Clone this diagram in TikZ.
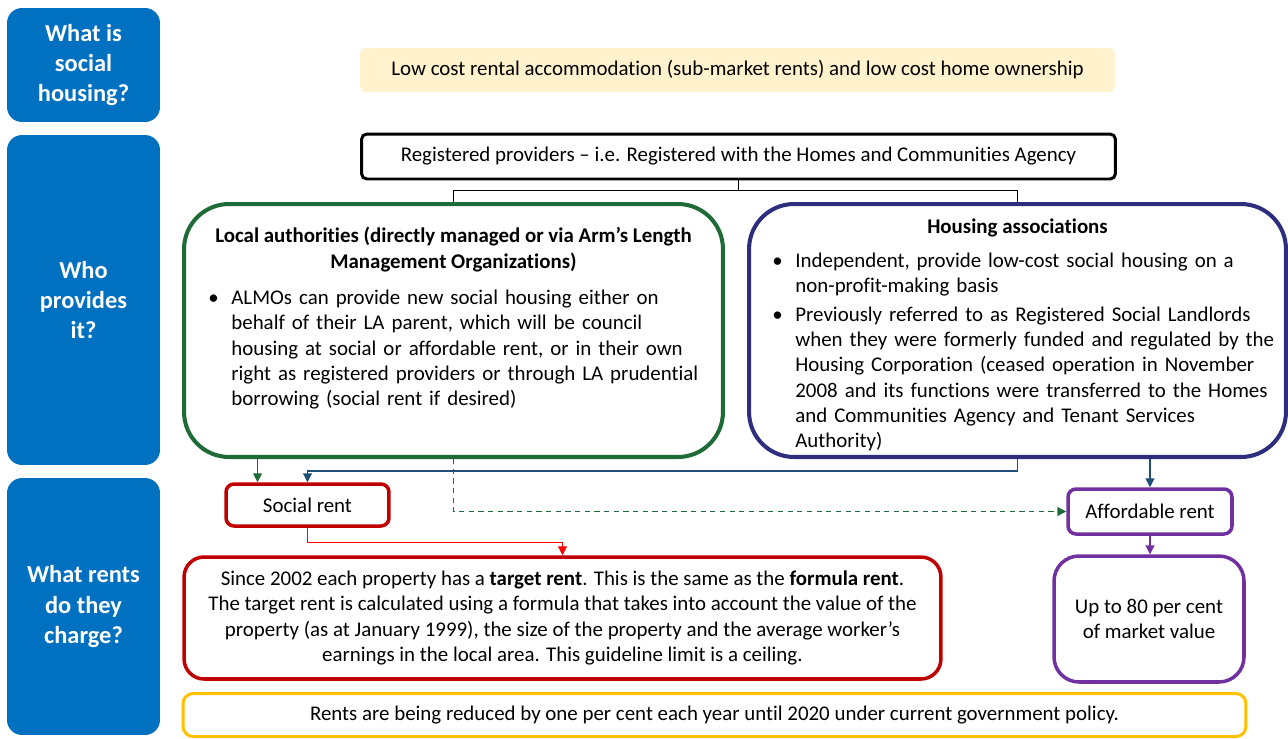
\documentclass[tikz,border=0pt]{standalone}
\usepackage{fontspec}
\setmainfont{Carlito}[Ligatures={TeX,NoCommon}]
\usepackage{tikz}
\usetikzlibrary{
  arrows.meta,
  calc}

\definecolor{qblue}{HTML}{0070C0}
\definecolor{defyellow}{HTML}{FFF2CC}
\definecolor{lagreen}{HTML}{1E6B37}
\definecolor{hanavy}{HTML}{2E2E7E}
\definecolor{linknavy}{HTML}{1F4E79}
\definecolor{srred}{HTML}{C00000}
\definecolor{linkred}{HTML}{FF0000}
\definecolor{arpurple}{HTML}{7030A0}
\definecolor{noticegold}{HTML}{FFC000}

\newcommand{\hitem}[1]{\par\hangindent=0.46cm\hangafter=1\noindent\makebox[0.46cm][l]{\textbullet}#1\par}

\tikzset{
  bodyfont/.style={font=\fontsize{11.9}{14.4}\selectfont},
  question/.style={rectangle, rounded corners=0.3cm, fill=qblue, text=white,
    align=center, minimum width=3.06cm, font=\fontsize{13.9}{17.1}\selectfont\bfseries},
  rentbox/.style={rectangle, draw, bodyfont, align=center, inner sep=0pt},
  headtext/.style={font=\fontsize{11.9}{14.4}\selectfont\bfseries, align=center, inner sep=0pt},
  bulletbody/.style={bodyfont, text width=10.2cm, align=left, inner sep=0pt},
  linkarrow/.style={line width=0.6pt, -{Triangle[width=5pt,length=5pt]}},
}

\begin{document}
\begin{tikzpicture}[x=0.02cm, y=-0.02cm]
\useasboundingbox (0,0) rectangle (1288,738);

% the three questions
\node[question, minimum height=2.28cm] (qwhat) at (83.5,65) {What is\\social\\housing?};
\node[question, minimum height=6.6cm] (qwho) at (83.5,300) {Who\\provides\\it?};
\node[question, minimum height=5.14cm] (qrent) at (83.5,606.5) {What rents\\do they\\charge?};

% what is it
\node[rentbox, draw=none, fill=defyellow, rounded corners=3pt, minimum width=15.1cm, minimum height=0.88cm] (def) at (737.5,70)
  {Low cost rental accommodation (sub-market rents) and low cost home ownership};

% who provides it
\node[rentbox, draw=black, line width=1.7pt, rounded corners=3pt, minimum width=15.08cm, minimum height=0.9cm] (rp) at (738.5,156.5)
  {Registered providers – i.e. Registered with the Homes and Communities Agency};

\node[rentbox, draw=lagreen, line width=2.3pt, rounded corners=0.9cm, minimum width=10.78cm, minimum height=5.06cm] (la) at (453.5,330.5) {};
\node[rentbox, draw=hanavy, line width=2.3pt, rounded corners=0.9cm, minimum width=10.74cm, minimum height=5.06cm] (ha) at (1017.5,330.5) {};

\node[headtext, anchor=north] (lahead) at ($(la.north)+(0,25)$)
  {Local authorities (directly managed or via Arm’s Length\\Management Organizations)};
\node[bulletbody, anchor=north west] (labody) at ($(la.north west)+(26,77)$) {%
  \hitem{ALMOs can provide new social housing either on\newline behalf of their LA parent, which will be council\newline
    housing at social or affordable rent, or in their own\newline right as registered providers or through LA prudential\newline
    borrowing (social rent if desired)}};

\node[headtext, anchor=north] (hahead) at ($(ha.north)+(0,16)$) {Housing associations};
\node[bulletbody, anchor=north west] (habody) at ($(ha.north west)+(25,37)$) {%
  \setlength{\parskip}{1.7pt}%
  \hitem{Independent, provide low-cost social housing on a\newline non-profit-making basis}
  \hitem{Previously referred to as Registered Social Landlords\newline when they were formerly funded and regulated by the\newline
    Housing Corporation (ceased operation in November\newline 2008 and its functions were transferred to the Homes\newline
    and Communities Agency and Tenant Services\newline Authority)}};

% what rents
\node[rentbox, draw=srred, line width=2pt, rounded corners=0.16cm, minimum width=3.26cm, minimum height=0.84cm] (social) at (307.5,505) {Social rent};
\node[rentbox, draw=arpurple, line width=2pt, rounded corners=0.16cm, minimum width=3.28cm, minimum height=0.9cm] (afford) at (1150,511.5) {Affordable rent};

\node[rentbox, draw=srred, line width=2pt, rounded corners=0.4cm, minimum width=15.14cm, minimum height=2.44cm] (target) at (562.5,618)
  {Since 2002 each property has a \textbf{target rent}. This is the same as the \textbf{formula rent}.\\
   The target rent is calculated using a formula that takes into account the value of the\\
   property (as at January 1999), the size of the property and the average worker’s\\
   earnings in the local area. This guideline limit is a ceiling.};
\node[rentbox, draw=arpurple, line width=2pt, rounded corners=0.5cm, minimum width=3.8cm, minimum height=2.52cm] (up80) at (1149,619)
  {Up to 80 per cent\\of market value};

\node[rentbox, draw=noticegold, line width=1.7pt, rounded corners=0.2cm, minimum width=21.26cm, minimum height=0.86cm] (rents) at (714.5,715)
  {Rents are being reduced by one per cent each year until 2020 under current government policy.};

% connectors
\draw[line width=0.6pt] (rp.south) -- ++(0,10) -| (la.north);
\draw[line width=0.6pt] (rp.south) -- ++(0,10) -| (ha.north);

\coordinate (srgreen) at ($(social.north west)!0.2!(social.north east)$);
\draw[linkarrow, lagreen] (srgreen |- la.south) -- (srgreen);
\draw[linkarrow, linknavy] (ha.south) -- ++(0,12) -| (social.north);
\draw[linkarrow, linknavy] (afford.north |- ha.south) -- (afford.north);
\draw[linkarrow, lagreen, dash pattern=on 3pt off 2.5pt] (la.south) |- (afford.west);
\draw[linkarrow, linkred] (social.south) -- ++(0,15) -| (target.north);
\draw[linkarrow, arpurple] (afford.south) -- (afford.south |- up80.north);

\end{tikzpicture}
\end{document}
